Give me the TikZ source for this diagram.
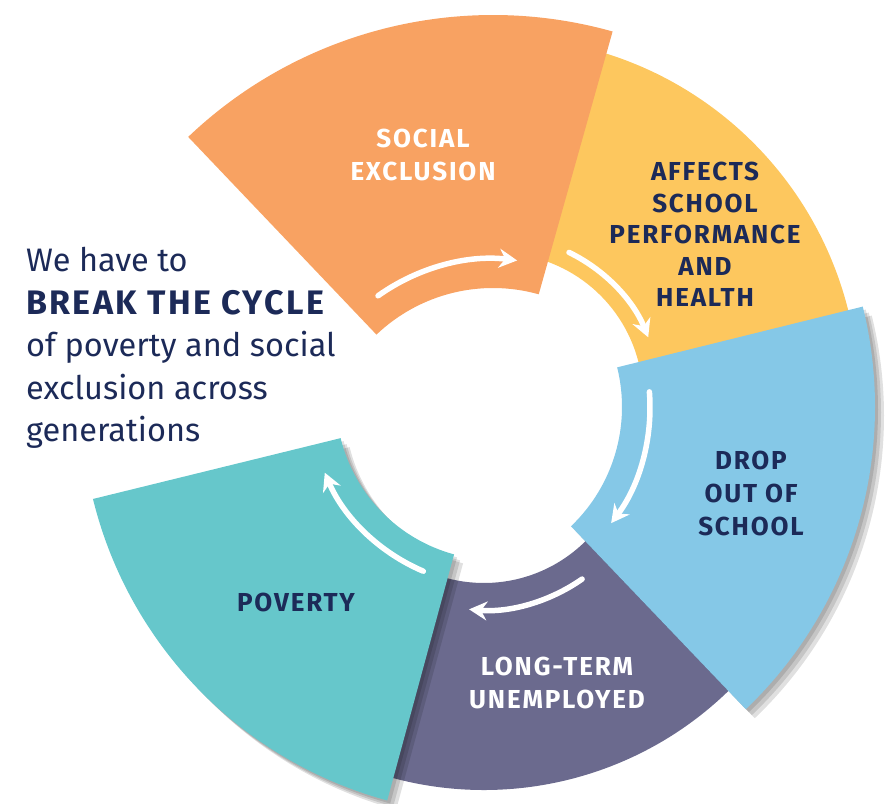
\documentclass[tikz,border=0pt]{standalone}
\usepackage{fontspec}
\setmainfont{Fira Sans}
\newfontfamily\ringfont{Fira Sans}[LetterSpace=7.0]
\newfontfamily\breakfont{Fira Sans}[LetterSpace=7.0]
\usetikzlibrary{arrows.meta}
\definecolor{navy}{RGB}{28,42,88}
\definecolor{exclorange}{RGB}{248,162,98}
\definecolor{schoolyellow}{RGB}{253,199,94}
\definecolor{dropblue}{RGB}{133,200,231}
\definecolor{jobpurple}{RGB}{107,106,142}
\definecolor{povteal}{RGB}{102,199,203}
\begin{document}
\begin{tikzpicture}[x=1pt, y=1pt, line cap=round,
	cyc/.style={white, line width=5.5pt, -{Stealth[length=18pt,width=19pt,inset=6pt]}},
	lbl/.style={font=\ringfont\bfseries\fontsize{26}{33}\selectfont, align=center, inner sep=0pt},
	intro/.style={anchor=base west, text=navy, inner sep=0pt, font=\fontsize{32.5}{40}\selectfont},
	shade/.style={black, opacity=.12}]
	\useasboundingbox (0,0) rectangle (894,803);
	% centres of the pieces
	\coordinate (OC) at (493,346);
	\coordinate (YC) at (498,405);
	\coordinate (BC) at (457,396);
	\coordinate (PC) at (484,364);
	\coordinate (TC) at (496,403);
	% pieces at the back
	\fill[schoolyellow, shift={(YC)}] (5:361pt) arc[start angle=5, end angle=80, radius=361pt]
		-- (80:145pt) arc[start angle=80, end angle=5, radius=145pt] -- cycle;
	\fill[jobpurple, shift={(PC)}] (245:351pt) arc[start angle=245, end angle=320, radius=351pt]
		-- (320:144pt) arc[start angle=320, end angle=245, radius=144pt] -- cycle;
	% soft shadows under the front pieces
	\foreach \d in {3,6,9} {
		\fill[shade, shift={(BC)}, shift={(\d,-\d)}] (-46.3:418pt) arc[start angle=-46.3, end angle=13.9, radius=418pt]
			-- (13.9:165pt) arc[start angle=13.9, end angle=-46.3, radius=165pt] -- cycle;
		\fill[shade, shift={(TC)}, shift={(\d,-\d)}] (193.8:415pt) arc[start angle=193.8, end angle=254.8, radius=415pt]
			-- (254.8:160pt) arc[start angle=254.8, end angle=193.8, radius=160pt] -- cycle;
	}
	% pieces in front
	\fill[exclorange, shift={(OC)}] (74.3:442pt) arc[start angle=74.3, end angle=133.6, radius=442pt]
		-- (133.6:169pt) arc[start angle=133.6, end angle=74.3, radius=169pt] -- cycle;
	\fill[dropblue, shift={(BC)}] (-46.3:418pt) arc[start angle=-46.3, end angle=13.9, radius=418pt]
		-- (13.9:165pt) arc[start angle=13.9, end angle=-46.3, radius=165pt] -- cycle;
	\fill[povteal, shift={(TC)}] (193.8:415pt) arc[start angle=193.8, end angle=254.8, radius=415pt]
		-- (254.8:160pt) arc[start angle=254.8, end angle=193.8, radius=160pt] -- cycle;
	% arrows of the cycle
	\draw[cyc, shift={(OC)}] (125.5:198pt) arc[start angle=125.5, end angle=83, radius=198pt];
	\draw[cyc, shift={(YC)}] (64:162pt) arc[start angle=64, end angle=22, radius=162pt];
	\draw[cyc, shift={(BC)}] (4.5:193pt) arc[start angle=4.5, end angle=-37, radius=193pt];
	\draw[cyc, shift={(PC)}] (305:171pt) arc[start angle=305, end angle=265, radius=171pt];
	\draw[cyc, shift={(TC)}] (247:186pt) arc[start angle=247, end angle=203, radius=186pt];
	% labels
	\node[lbl, text=white] (excl) at (423,648) {SOCIAL\\EXCLUSION};
	\node[lbl, text=navy, font=\ringfont\bfseries\fontsize{26}{31.5}\selectfont] (affects) at (705,568.5) {AFFECTS\\SCHOOL\\PERFORMANCE\\AND\\HEALTH};
	\node[lbl, text=navy] (drop) at (751,309.5) {DROP\\OUT OF\\SCHOOL};
	\node[lbl, text=white] (longterm) at (557,120.5) {LONG-TERM\\UNEMPLOYED};
	\node[lbl, text=navy] (poverty) at (296,200.5) {POVERTY};
	% text on the left
	\node[intro] (we) at (26,531) {We have to};
	\node[intro, font=\breakfont\bfseries\fontsize{34}{40}\selectfont] (break) at (26,488) {BREAK THE CYCLE};
	\node[intro] (of) at (26,446) {of poverty and social};
	\node[intro] (acr) at (26,403) {exclusion across};
	\node[intro] (gen) at (26,361) {generations};
\end{tikzpicture}
\end{document}
